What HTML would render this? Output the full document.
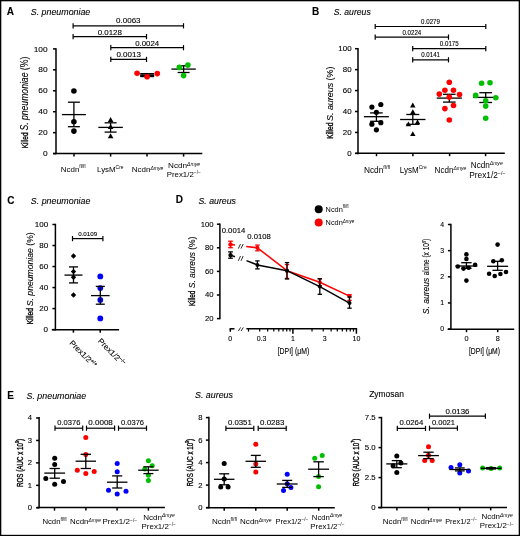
<!DOCTYPE html>
<html><head><meta charset="utf-8"><style>
html,body{margin:0;padding:0;background:#fff;}
svg{display:block;will-change:transform;}
text{font-family:"Liberation Sans",sans-serif;stroke:currentColor;stroke-width:0.1px;}
</style></head><body>
<svg width="520" height="536" viewBox="0 0 520 536">
<rect x="0" y="0" width="520" height="536" fill="#fff"/>
<rect x="0" y="0" width="520" height="1.3" fill="#000"/>
<rect x="0" y="0" width="1.3" height="536" fill="#000"/>
<rect x="518.7" y="0" width="1.3" height="536" fill="#000"/>
<rect x="0" y="534.8" width="520" height="1.2" fill="#000"/>
<text x="6.7" y="14.8" font-size="10" font-weight="bold">A</text>
<text x="30.8" y="14.8" font-size="8.87" font-style="italic" textLength="59.5" lengthAdjust="spacingAndGlyphs">S. pneumoniae</text>
<line x1="56" y1="48.16" x2="56" y2="154.35" stroke="#000" stroke-width="1.5" />
<line x1="53" y1="48.9" x2="56" y2="48.9" stroke="#000" stroke-width="1.5" />
<text x="33.66" y="51.51" font-size="7.6" textLength="13.94" lengthAdjust="spacingAndGlyphs">100</text>
<line x1="53" y1="69.84" x2="56" y2="69.84" stroke="#000" stroke-width="1.5" />
<text x="38.3" y="72.45" font-size="7.6" textLength="9.3" lengthAdjust="spacingAndGlyphs">80</text>
<line x1="53" y1="90.78" x2="56" y2="90.78" stroke="#000" stroke-width="1.5" />
<text x="38.3" y="93.39" font-size="7.6" textLength="9.3" lengthAdjust="spacingAndGlyphs">60</text>
<line x1="53" y1="111.72" x2="56" y2="111.72" stroke="#000" stroke-width="1.5" />
<text x="38.3" y="114.33" font-size="7.6" textLength="9.3" lengthAdjust="spacingAndGlyphs">40</text>
<line x1="53" y1="132.66" x2="56" y2="132.66" stroke="#000" stroke-width="1.5" />
<text x="38.3" y="135.27" font-size="7.6" textLength="9.3" lengthAdjust="spacingAndGlyphs">20</text>
<line x1="53" y1="153.6" x2="56" y2="153.6" stroke="#000" stroke-width="1.5" />
<text x="42.95" y="156.21" font-size="7.6" textLength="4.65" lengthAdjust="spacingAndGlyphs">0</text>
<text x="0" y="0" font-size="9.74" textLength="15.7" lengthAdjust="spacingAndGlyphs" transform="translate(28.2 148.2) rotate(-90)" style="stroke-width:0.35px">Killed</text>
<text x="0" y="0" font-size="10.17" textLength="73.9" lengthAdjust="spacingAndGlyphs" transform="translate(28.2 130.6) rotate(-90)"><tspan font-style="italic">S. pneumoniae</tspan> (%)</text>
<line x1="53" y1="153.6" x2="202.3" y2="153.6" stroke="#000" stroke-width="1.5" />
<line x1="74" y1="153.6" x2="74" y2="156.6" stroke="#000" stroke-width="1.5" />
<line x1="110.6" y1="153.6" x2="110.6" y2="156.6" stroke="#000" stroke-width="1.5" />
<line x1="147" y1="153.6" x2="147" y2="156.6" stroke="#000" stroke-width="1.5" />
<line x1="183.6" y1="153.6" x2="183.6" y2="156.6" stroke="#000" stroke-width="1.5" />
<line x1="73.1" y1="25.8" x2="183.5" y2="25.8" stroke="#000" stroke-width="1.2" />
<line x1="73.1" y1="23.2" x2="73.1" y2="28.4" stroke="#000" stroke-width="1.2" />
<line x1="183.5" y1="23.2" x2="183.5" y2="28.4" stroke="#000" stroke-width="1.2" />
<text x="116.05" y="23.2" font-size="7.12" textLength="24.5" lengthAdjust="spacingAndGlyphs">0.0063</text>
<line x1="73.1" y1="36.6" x2="146.5" y2="36.6" stroke="#000" stroke-width="1.2" />
<line x1="73.1" y1="34" x2="73.1" y2="39.2" stroke="#000" stroke-width="1.2" />
<line x1="146.5" y1="34" x2="146.5" y2="39.2" stroke="#000" stroke-width="1.2" />
<text x="97.65" y="34.6" font-size="7.12" textLength="24.3" lengthAdjust="spacingAndGlyphs">0.0128</text>
<line x1="110.8" y1="47.7" x2="183.5" y2="47.7" stroke="#000" stroke-width="1.2" />
<line x1="110.8" y1="45.1" x2="110.8" y2="50.3" stroke="#000" stroke-width="1.2" />
<line x1="183.5" y1="45.1" x2="183.5" y2="50.3" stroke="#000" stroke-width="1.2" />
<text x="135.15" y="45.8" font-size="7.12" textLength="24" lengthAdjust="spacingAndGlyphs">0.0024</text>
<line x1="110.8" y1="59.4" x2="146.5" y2="59.4" stroke="#000" stroke-width="1.2" />
<line x1="110.8" y1="56.8" x2="110.8" y2="62" stroke="#000" stroke-width="1.2" />
<line x1="146.5" y1="56.8" x2="146.5" y2="62" stroke="#000" stroke-width="1.2" />
<text x="116.4" y="56.8" font-size="7.12" textLength="24.5" lengthAdjust="spacingAndGlyphs">0.0013</text>
<line x1="61.9" y1="114.6" x2="85.9" y2="114.6" stroke="#000" stroke-width="1.3" />
<line x1="67.9" y1="102.2" x2="79.9" y2="102.2" stroke="#000" stroke-width="1.3" />
<line x1="67.9" y1="126.7" x2="79.9" y2="126.7" stroke="#000" stroke-width="1.3" />
<line x1="73.9" y1="102.2" x2="73.9" y2="126.7" stroke="#000" stroke-width="1.3" />
<circle cx="73.9" cy="91" r="2.8" fill="#000"/>
<circle cx="73.9" cy="121.7" r="2.8" fill="#000"/>
<circle cx="73.9" cy="131.1" r="2.8" fill="#000"/>
<line x1="98.35" y1="127.4" x2="122.85" y2="127.4" stroke="#000" stroke-width="1.3" />
<line x1="104.6" y1="122.8" x2="116.6" y2="122.8" stroke="#000" stroke-width="1.3" />
<line x1="104.6" y1="132.1" x2="116.6" y2="132.1" stroke="#000" stroke-width="1.3" />
<line x1="110.6" y1="122.8" x2="110.6" y2="132.1" stroke="#000" stroke-width="1.3" />
<path d="M110.6 117.1L113.4 122.1L107.8 122.1Z" fill="#000"/>
<path d="M110.6 124.1L113.4 129.1L107.8 129.1Z" fill="#000"/>
<path d="M110.6 133.3L113.4 138.3L107.8 138.3Z" fill="#000"/>
<line x1="140.2" y1="75.3" x2="154.2" y2="75.3" stroke="#000" stroke-width="1.6" />
<line x1="140.2" y1="73.8" x2="154.2" y2="73.8" stroke="#000" stroke-width="1.6" />
<line x1="140.2" y1="76.4" x2="154.2" y2="76.4" stroke="#000" stroke-width="1.6" />
<line x1="147.2" y1="73.8" x2="147.2" y2="76.4" stroke="#000" stroke-width="1.6" />
<circle cx="137.1" cy="73.2" r="2.8" fill="#ff0000"/>
<circle cx="147.1" cy="76.8" r="2.8" fill="#ff0000"/>
<circle cx="157.3" cy="73.6" r="2.8" fill="#ff0000"/>
<line x1="171.4" y1="69.1" x2="195.8" y2="69.1" stroke="#000" stroke-width="1.3" />
<line x1="177.6" y1="65.8" x2="189.6" y2="65.8" stroke="#000" stroke-width="1.3" />
<line x1="177.6" y1="72.5" x2="189.6" y2="72.5" stroke="#000" stroke-width="1.3" />
<line x1="183.6" y1="65.8" x2="183.6" y2="72.5" stroke="#000" stroke-width="1.3" />
<circle cx="179.4" cy="67.4" r="2.8" fill="#00be00"/>
<circle cx="187.9" cy="65.1" r="2.8" fill="#00be00"/>
<circle cx="183.6" cy="75.6" r="2.8" fill="#00be00"/>
<text x="60.8" y="171.6" font-size="7.56" textLength="24.8" lengthAdjust="spacingAndGlyphs" style="stroke-width:0">Ncdn<tspan font-size="4.69" dy="-3.22">fl/fl</tspan></text>
<text x="97.1" y="172" font-size="7.99" textLength="26.4" lengthAdjust="spacingAndGlyphs" style="stroke-width:0">LysM<tspan font-size="4.96" dy="-3.41">Cre</tspan></text>
<text x="131.7" y="171.7" font-size="7.56" textLength="31.5" lengthAdjust="spacingAndGlyphs" style="stroke-width:0">Ncdn<tspan font-size="4.69" dy="-2.18" font-style="italic">Δmye</tspan></text>
<text x="168.1" y="167.7" font-size="7.56" textLength="32" lengthAdjust="spacingAndGlyphs" style="stroke-width:0">Ncdn<tspan font-size="4.69" dy="-2.18" font-style="italic">Δmye</tspan></text>
<text x="166.7" y="176.7" font-size="7.56" textLength="34.2" lengthAdjust="spacingAndGlyphs" style="stroke-width:0">Prex1/2<tspan font-size="4.69" dy="-2.6">−/−</tspan></text>
<text x="312" y="14.5" font-size="10" font-weight="bold">B</text>
<text x="333.75" y="14.5" font-size="8.14" font-style="italic" textLength="37" lengthAdjust="spacingAndGlyphs">S. aureus</text>
<line x1="358" y1="47.96" x2="358" y2="154.15" stroke="#000" stroke-width="1.5" />
<line x1="355" y1="48.7" x2="358" y2="48.7" stroke="#000" stroke-width="1.5" />
<text x="338.36" y="51.07" font-size="6.9" textLength="13.24" lengthAdjust="spacingAndGlyphs">100</text>
<line x1="355" y1="69.64" x2="358" y2="69.64" stroke="#000" stroke-width="1.5" />
<text x="342.78" y="72.01" font-size="6.9" textLength="8.82" lengthAdjust="spacingAndGlyphs">80</text>
<line x1="355" y1="90.58" x2="358" y2="90.58" stroke="#000" stroke-width="1.5" />
<text x="342.78" y="92.95" font-size="6.9" textLength="8.82" lengthAdjust="spacingAndGlyphs">60</text>
<line x1="355" y1="111.52" x2="358" y2="111.52" stroke="#000" stroke-width="1.5" />
<text x="342.78" y="113.89" font-size="6.9" textLength="8.82" lengthAdjust="spacingAndGlyphs">40</text>
<line x1="355" y1="132.46" x2="358" y2="132.46" stroke="#000" stroke-width="1.5" />
<text x="342.78" y="134.83" font-size="6.9" textLength="8.82" lengthAdjust="spacingAndGlyphs">20</text>
<line x1="355" y1="153.4" x2="358" y2="153.4" stroke="#000" stroke-width="1.5" />
<text x="347.19" y="155.77" font-size="6.9" textLength="4.41" lengthAdjust="spacingAndGlyphs">0</text>
<text x="0" y="0" font-size="9.01" textLength="16.3" lengthAdjust="spacingAndGlyphs" transform="translate(333 138.8) rotate(-90)" style="stroke-width:0.35px">Killed</text>
<text x="0" y="0" font-size="9.3" textLength="54.4" lengthAdjust="spacingAndGlyphs" transform="translate(333 121) rotate(-90)"><tspan font-style="italic">S. aureus</tspan> (%)</text>
<line x1="355.5" y1="153.2" x2="504.8" y2="153.2" stroke="#000" stroke-width="1.5" />
<line x1="376.5" y1="153.2" x2="376.5" y2="156.2" stroke="#000" stroke-width="1.5" />
<line x1="412.9" y1="153.2" x2="412.9" y2="156.2" stroke="#000" stroke-width="1.5" />
<line x1="449.6" y1="153.2" x2="449.6" y2="156.2" stroke="#000" stroke-width="1.5" />
<line x1="485.6" y1="153.2" x2="485.6" y2="156.2" stroke="#000" stroke-width="1.5" />
<line x1="375.2" y1="26.5" x2="485.8" y2="26.5" stroke="#000" stroke-width="1.2" />
<line x1="375.2" y1="23.9" x2="375.2" y2="29.1" stroke="#000" stroke-width="1.2" />
<line x1="485.8" y1="23.9" x2="485.8" y2="29.1" stroke="#000" stroke-width="1.2" />
<text x="421.1" y="23.7" font-size="6.54" textLength="18.8" lengthAdjust="spacingAndGlyphs">0.0279</text>
<line x1="375.2" y1="37.1" x2="448.5" y2="37.1" stroke="#000" stroke-width="1.2" />
<line x1="375.2" y1="34.5" x2="375.2" y2="39.7" stroke="#000" stroke-width="1.2" />
<line x1="448.5" y1="34.5" x2="448.5" y2="39.7" stroke="#000" stroke-width="1.2" />
<text x="402.45" y="34.6" font-size="6.54" textLength="18.8" lengthAdjust="spacingAndGlyphs">0.0224</text>
<line x1="412.7" y1="48.7" x2="485.8" y2="48.7" stroke="#000" stroke-width="1.2" />
<line x1="412.7" y1="46.1" x2="412.7" y2="51.3" stroke="#000" stroke-width="1.2" />
<line x1="485.8" y1="46.1" x2="485.8" y2="51.3" stroke="#000" stroke-width="1.2" />
<text x="439.85" y="46" font-size="6.54" textLength="18.8" lengthAdjust="spacingAndGlyphs">0.0175</text>
<line x1="412.7" y1="59.8" x2="448.5" y2="59.8" stroke="#000" stroke-width="1.2" />
<line x1="412.7" y1="57.2" x2="412.7" y2="62.4" stroke="#000" stroke-width="1.2" />
<line x1="448.5" y1="57.2" x2="448.5" y2="62.4" stroke="#000" stroke-width="1.2" />
<text x="421.2" y="57.1" font-size="6.54" textLength="18.8" lengthAdjust="spacingAndGlyphs">0.0141</text>
<line x1="363.9" y1="116.7" x2="388.9" y2="116.7" stroke="#000" stroke-width="1.3" />
<line x1="370.1" y1="112.9" x2="382.7" y2="112.9" stroke="#000" stroke-width="1.3" />
<line x1="370.1" y1="121.3" x2="382.7" y2="121.3" stroke="#000" stroke-width="1.3" />
<line x1="376.4" y1="112.9" x2="376.4" y2="121.3" stroke="#000" stroke-width="1.3" />
<circle cx="371.9" cy="107.1" r="2.6" fill="#000"/>
<circle cx="380.8" cy="104.5" r="2.6" fill="#000"/>
<circle cx="376.4" cy="112.3" r="2.6" fill="#000"/>
<circle cx="371.9" cy="124.2" r="2.6" fill="#000"/>
<circle cx="380.8" cy="122.7" r="2.6" fill="#000"/>
<circle cx="376.4" cy="129.8" r="2.6" fill="#000"/>
<line x1="400.1" y1="119.5" x2="425.5" y2="119.5" stroke="#000" stroke-width="1.3" />
<line x1="406.3" y1="114.5" x2="419.3" y2="114.5" stroke="#000" stroke-width="1.3" />
<line x1="406.3" y1="124.3" x2="419.3" y2="124.3" stroke="#000" stroke-width="1.3" />
<line x1="412.8" y1="114.5" x2="412.8" y2="124.3" stroke="#000" stroke-width="1.3" />
<path d="M412.8 102.62L415.5 107.42L410.1 107.42Z" fill="#000"/>
<path d="M412.8 109.32L415.5 114.12L410.1 114.12Z" fill="#000"/>
<path d="M408.4 121.52L411.1 126.32L405.7 126.32Z" fill="#000"/>
<path d="M417.5 119.42L420.2 124.22L414.8 124.22Z" fill="#000"/>
<path d="M412.8 131.22L415.5 136.02L410.1 136.02Z" fill="#000"/>
<line x1="436.7" y1="98.1" x2="461.9" y2="98.1" stroke="#000" stroke-width="1.3" />
<line x1="443" y1="94.3" x2="455.6" y2="94.3" stroke="#000" stroke-width="1.3" />
<line x1="443" y1="102.1" x2="455.6" y2="102.1" stroke="#000" stroke-width="1.3" />
<line x1="449.3" y1="94.3" x2="449.3" y2="102.1" stroke="#000" stroke-width="1.3" />
<circle cx="449.3" cy="82.3" r="2.8" fill="#ff0000"/>
<circle cx="444.9" cy="90.2" r="2.8" fill="#ff0000"/>
<circle cx="453.5" cy="90.2" r="2.8" fill="#ff0000"/>
<circle cx="439.3" cy="94.1" r="2.8" fill="#ff0000"/>
<circle cx="459.5" cy="94.6" r="2.8" fill="#ff0000"/>
<circle cx="449.3" cy="97.1" r="2.8" fill="#ff0000"/>
<circle cx="453.5" cy="105.5" r="2.8" fill="#ff0000"/>
<circle cx="444.9" cy="108.6" r="2.8" fill="#ff0000"/>
<circle cx="449.3" cy="120" r="2.8" fill="#ff0000"/>
<line x1="473.2" y1="97.4" x2="498.2" y2="97.4" stroke="#000" stroke-width="1.3" />
<line x1="479.3" y1="92.7" x2="492.1" y2="92.7" stroke="#000" stroke-width="1.3" />
<line x1="479.3" y1="102.5" x2="492.1" y2="102.5" stroke="#000" stroke-width="1.3" />
<line x1="485.7" y1="92.7" x2="485.7" y2="102.5" stroke="#000" stroke-width="1.3" />
<circle cx="481.6" cy="83.2" r="2.8" fill="#00be00"/>
<circle cx="490" cy="82.7" r="2.8" fill="#00be00"/>
<circle cx="475.7" cy="95.4" r="2.8" fill="#00be00"/>
<circle cx="495.8" cy="97.7" r="2.8" fill="#00be00"/>
<circle cx="485.7" cy="100.7" r="2.8" fill="#00be00"/>
<circle cx="485.7" cy="106.1" r="2.8" fill="#00be00"/>
<circle cx="485.7" cy="118.2" r="2.8" fill="#00be00"/>
<text x="363.9" y="172.8" font-size="8.14" textLength="26.1" lengthAdjust="spacingAndGlyphs" style="stroke-width:0">Ncdn<tspan font-size="5.05" dy="-3.47">fl/fl</tspan></text>
<text x="399.8" y="172.8" font-size="8.14" textLength="27" lengthAdjust="spacingAndGlyphs" style="stroke-width:0">LysM<tspan font-size="5.05" dy="-3.47">Cre</tspan></text>
<text x="434.6" y="172.8" font-size="8.14" textLength="31.7" lengthAdjust="spacingAndGlyphs" style="stroke-width:0">Ncdn<tspan font-size="5.05" dy="-2.35" font-style="italic">Δmye</tspan></text>
<text x="470.8" y="167.5" font-size="8.14" textLength="31.9" lengthAdjust="spacingAndGlyphs" style="stroke-width:0">Ncdn<tspan font-size="5.05" dy="-2.35" font-style="italic">Δmye</tspan></text>
<text x="469.2" y="177.7" font-size="8.14" textLength="36.3" lengthAdjust="spacingAndGlyphs" style="stroke-width:0">Prex1/2<tspan font-size="5.05" dy="-2.8">−/−</tspan></text>
<text x="7.3" y="203.5" font-size="10" font-weight="bold">C</text>
<text x="30.8" y="204" font-size="9.01" font-style="italic" textLength="59.6" lengthAdjust="spacingAndGlyphs">S. pneumoniae</text>
<line x1="55.4" y1="223.76" x2="55.4" y2="330.45" stroke="#000" stroke-width="1.5" />
<line x1="52.4" y1="224.5" x2="55.4" y2="224.5" stroke="#000" stroke-width="1.5" />
<text x="34.72" y="226.84" font-size="6.8" textLength="13.38" lengthAdjust="spacingAndGlyphs">100</text>
<line x1="52.4" y1="245.52" x2="55.4" y2="245.52" stroke="#000" stroke-width="1.5" />
<text x="39.18" y="247.86" font-size="6.8" textLength="8.92" lengthAdjust="spacingAndGlyphs">80</text>
<line x1="52.4" y1="266.54" x2="55.4" y2="266.54" stroke="#000" stroke-width="1.5" />
<text x="39.18" y="268.88" font-size="6.8" textLength="8.92" lengthAdjust="spacingAndGlyphs">60</text>
<line x1="52.4" y1="287.56" x2="55.4" y2="287.56" stroke="#000" stroke-width="1.5" />
<text x="39.18" y="289.9" font-size="6.8" textLength="8.92" lengthAdjust="spacingAndGlyphs">40</text>
<line x1="52.4" y1="308.58" x2="55.4" y2="308.58" stroke="#000" stroke-width="1.5" />
<text x="39.18" y="310.92" font-size="6.8" textLength="8.92" lengthAdjust="spacingAndGlyphs">20</text>
<line x1="52.4" y1="329.6" x2="55.4" y2="329.6" stroke="#000" stroke-width="1.5" />
<text x="43.64" y="331.94" font-size="6.8" textLength="4.46" lengthAdjust="spacingAndGlyphs">0</text>
<text x="0" y="0" font-size="8.28" textLength="16.2" lengthAdjust="spacingAndGlyphs" transform="translate(32.9 324.3) rotate(-90)" style="stroke-width:0.35px">Killed</text>
<text x="0" y="0" font-size="9.59" textLength="73.9" lengthAdjust="spacingAndGlyphs" transform="translate(32.9 306.2) rotate(-90)"><tspan font-style="italic">S. pneumoniae</tspan> (%)</text>
<line x1="51.8" y1="329.7" x2="119.1" y2="329.7" stroke="#000" stroke-width="1.5" />
<line x1="73.4" y1="329.7" x2="73.4" y2="332.7" stroke="#000" stroke-width="1.5" />
<line x1="100.2" y1="329.7" x2="100.2" y2="332.7" stroke="#000" stroke-width="1.5" />
<line x1="72.5" y1="238.6" x2="102.9" y2="238.6" stroke="#000" stroke-width="1.2" />
<line x1="72.5" y1="236" x2="72.5" y2="241.2" stroke="#000" stroke-width="1.2" />
<line x1="102.9" y1="236" x2="102.9" y2="241.2" stroke="#000" stroke-width="1.2" />
<text x="78.2" y="235.9" font-size="6.1" textLength="19" lengthAdjust="spacingAndGlyphs">0.0109</text>
<line x1="64.5" y1="275.1" x2="82.5" y2="275.1" stroke="#000" stroke-width="1.3" />
<line x1="69" y1="266.9" x2="78" y2="266.9" stroke="#000" stroke-width="1.3" />
<line x1="69" y1="282.9" x2="78" y2="282.9" stroke="#000" stroke-width="1.3" />
<line x1="73.5" y1="266.9" x2="73.5" y2="282.9" stroke="#000" stroke-width="1.3" />
<path d="M73.5 253.3L76.2 256L73.5 258.7L70.8 256Z" fill="#000"/>
<path d="M73.5 268.9L76.2 271.6L73.5 274.3L70.8 271.6Z" fill="#000"/>
<path d="M73.5 274.5L76.2 277.2L73.5 279.9L70.8 277.2Z" fill="#000"/>
<path d="M73.5 292.3L76.2 295L73.5 297.7L70.8 295Z" fill="#000"/>
<circle cx="100.3" cy="276.4" r="2.9" fill="#0000ff"/>
<circle cx="100.3" cy="288.1" r="2.9" fill="#0000ff"/>
<circle cx="100.3" cy="299.9" r="2.9" fill="#0000ff"/>
<circle cx="100.3" cy="318.4" r="2.9" fill="#0000ff"/>
<line x1="91" y1="295.6" x2="109.6" y2="295.6" stroke="#000" stroke-width="1.3" />
<line x1="95.8" y1="286.4" x2="104.8" y2="286.4" stroke="#000" stroke-width="1.3" />
<line x1="95.8" y1="304.2" x2="104.8" y2="304.2" stroke="#000" stroke-width="1.3" />
<line x1="100.3" y1="286.4" x2="100.3" y2="304.2" stroke="#000" stroke-width="1.3" />
<text x="0" y="0" font-size="7.8" textLength="35" lengthAdjust="spacingAndGlyphs" transform="translate(68.9 343.4) rotate(45)">Prex1/2<tspan font-size="5" dy="-2.8">+/+</tspan></text>
<text x="0" y="0" font-size="7.8" textLength="35" lengthAdjust="spacingAndGlyphs" transform="translate(97.4 341.6) rotate(45)">Prex1/2<tspan font-size="5" dy="-2.8">−/−</tspan></text>
<text x="175.8" y="203.3" font-size="10" font-weight="bold">D</text>
<text x="198.5" y="203.7" font-size="9.16" font-style="italic" textLength="37.5" lengthAdjust="spacingAndGlyphs">S. aureus</text>
<line x1="219.9" y1="223.46" x2="219.9" y2="319.35" stroke="#000" stroke-width="1.5" />
<line x1="216.9" y1="224.2" x2="219.9" y2="224.2" stroke="#000" stroke-width="1.5" />
<text x="200.66" y="226.61" font-size="7" textLength="12.84" lengthAdjust="spacingAndGlyphs">100</text>
<line x1="216.9" y1="247.8" x2="219.9" y2="247.8" stroke="#000" stroke-width="1.5" />
<text x="204.94" y="250.21" font-size="7" textLength="8.56" lengthAdjust="spacingAndGlyphs">80</text>
<line x1="216.9" y1="271.4" x2="219.9" y2="271.4" stroke="#000" stroke-width="1.5" />
<text x="204.94" y="273.81" font-size="7" textLength="8.56" lengthAdjust="spacingAndGlyphs">60</text>
<line x1="216.9" y1="295" x2="219.9" y2="295" stroke="#000" stroke-width="1.5" />
<text x="204.94" y="297.41" font-size="7" textLength="8.56" lengthAdjust="spacingAndGlyphs">40</text>
<line x1="216.9" y1="318.6" x2="219.9" y2="318.6" stroke="#000" stroke-width="1.5" />
<text x="204.94" y="321.01" font-size="7" textLength="8.56" lengthAdjust="spacingAndGlyphs">20</text>
<text x="0" y="0" font-size="9.88" textLength="15.4" lengthAdjust="spacingAndGlyphs" transform="translate(195.1 306.1) rotate(-90)" style="stroke-width:0.35px">Killed</text>
<text x="0" y="0" font-size="9.88" textLength="51.5" lengthAdjust="spacingAndGlyphs" transform="translate(195.1 288.2) rotate(-90)"><tspan font-style="italic">S. aureus</tspan> (%)</text>
<line x1="229.6" y1="328.8" x2="234.5" y2="328.8" stroke="#000" stroke-width="1.5" />
<line x1="230.3" y1="328.8" x2="230.3" y2="331.8" stroke="#000" stroke-width="1.5" />
<line x1="246.4" y1="328.8" x2="357.1" y2="328.8" stroke="#000" stroke-width="1.5" />
<line x1="248.52" y1="328.8" x2="248.52" y2="331.6" stroke="#000" stroke-width="1.2" />
<line x1="259.7" y1="328.8" x2="259.7" y2="331.6" stroke="#000" stroke-width="1.2" />
<line x1="267.63" y1="328.8" x2="267.63" y2="331.6" stroke="#000" stroke-width="1.2" />
<line x1="273.78" y1="328.8" x2="273.78" y2="331.6" stroke="#000" stroke-width="1.2" />
<line x1="278.81" y1="328.8" x2="278.81" y2="331.6" stroke="#000" stroke-width="1.2" />
<line x1="283.06" y1="328.8" x2="283.06" y2="331.6" stroke="#000" stroke-width="1.2" />
<line x1="286.75" y1="328.8" x2="286.75" y2="331.6" stroke="#000" stroke-width="1.2" />
<line x1="289.99" y1="328.8" x2="289.99" y2="331.6" stroke="#000" stroke-width="1.2" />
<line x1="312.02" y1="328.8" x2="312.02" y2="331.6" stroke="#000" stroke-width="1.2" />
<line x1="323.2" y1="328.8" x2="323.2" y2="331.6" stroke="#000" stroke-width="1.2" />
<line x1="331.13" y1="328.8" x2="331.13" y2="331.6" stroke="#000" stroke-width="1.2" />
<line x1="337.28" y1="328.8" x2="337.28" y2="331.6" stroke="#000" stroke-width="1.2" />
<line x1="342.31" y1="328.8" x2="342.31" y2="331.6" stroke="#000" stroke-width="1.2" />
<line x1="346.56" y1="328.8" x2="346.56" y2="331.6" stroke="#000" stroke-width="1.2" />
<line x1="350.25" y1="328.8" x2="350.25" y2="331.6" stroke="#000" stroke-width="1.2" />
<line x1="353.49" y1="328.8" x2="353.49" y2="331.6" stroke="#000" stroke-width="1.2" />
<line x1="292.9" y1="328.8" x2="292.9" y2="333.8" stroke="#000" stroke-width="1.5" />
<line x1="356.4" y1="328.8" x2="356.4" y2="333.8" stroke="#000" stroke-width="1.5" />
<text x="230.25" y="340.9" font-size="6.98" text-anchor="middle">0</text>
<text x="261.6" y="340.9" font-size="6.98" text-anchor="middle">0.3</text>
<text x="292.9" y="340.9" font-size="6.98" text-anchor="middle">1</text>
<text x="324.7" y="340.9" font-size="6.98" text-anchor="middle">3</text>
<text x="356.5" y="340.9" font-size="6.98" text-anchor="middle">10</text>
<text x="277.7" y="353.5" font-size="8.43" textLength="31.5" lengthAdjust="spacingAndGlyphs">[DPI] (μM)</text>
<circle cx="318.7" cy="209.2" r="4" fill="#000"/>
<circle cx="318.7" cy="222.5" r="4" fill="#ff0000"/>
<text x="325.6" y="211.7" font-size="7.56" textLength="23" lengthAdjust="spacingAndGlyphs" style="stroke-width:0">Ncdn<tspan font-size="4.69" dy="-3.22">fl/fl</tspan></text>
<text x="325.6" y="225" font-size="7.56" textLength="28.8" lengthAdjust="spacingAndGlyphs" style="stroke-width:0">Ncdn<tspan font-size="4.69" dy="-2.18" font-style="italic">Δmye</tspan></text>
<text x="221.7" y="232.7" font-size="6.54" textLength="23.6" lengthAdjust="spacingAndGlyphs">0.0014</text>
<text x="247.3" y="239" font-size="6.54" textLength="23.5" lengthAdjust="spacingAndGlyphs">0.0108</text>
<polyline points="246.2,246.4 257.4,247.8 287,270.7 319.8,282.2 349.5,296.1" fill="none" stroke="#ff0000" stroke-width="1.5" stroke-linejoin="round"/>
<line x1="257.4" y1="245.1" x2="257.4" y2="250.8" stroke="#ff0000" stroke-width="1.3" />
<line x1="255.2" y1="245.1" x2="259.6" y2="245.1" stroke="#ff0000" stroke-width="1.3" />
<line x1="255.2" y1="250.8" x2="259.6" y2="250.8" stroke="#ff0000" stroke-width="1.3" />
<circle cx="257.4" cy="247.8" r="2" fill="#ff0000"/>
<line x1="287" y1="264.6" x2="287" y2="278.4" stroke="#ff0000" stroke-width="1.3" />
<line x1="284.8" y1="264.6" x2="289.2" y2="264.6" stroke="#ff0000" stroke-width="1.3" />
<line x1="284.8" y1="278.4" x2="289.2" y2="278.4" stroke="#ff0000" stroke-width="1.3" />
<circle cx="287" cy="270.7" r="2" fill="#ff0000"/>
<line x1="319.8" y1="278.8" x2="319.8" y2="285.6" stroke="#ff0000" stroke-width="1.3" />
<line x1="317.6" y1="278.8" x2="322" y2="278.8" stroke="#ff0000" stroke-width="1.3" />
<line x1="317.6" y1="285.6" x2="322" y2="285.6" stroke="#ff0000" stroke-width="1.3" />
<circle cx="319.8" cy="282.2" r="2" fill="#ff0000"/>
<line x1="349.5" y1="294.7" x2="349.5" y2="300.4" stroke="#ff0000" stroke-width="1.3" />
<line x1="347.3" y1="294.7" x2="351.7" y2="294.7" stroke="#ff0000" stroke-width="1.3" />
<line x1="347.3" y1="300.4" x2="351.7" y2="300.4" stroke="#ff0000" stroke-width="1.3" />
<circle cx="349.5" cy="296.1" r="2" fill="#ff0000"/>
<line x1="230.5" y1="241.2" x2="230.5" y2="247.7" stroke="#ff0000" stroke-width="1.3" />
<line x1="228.15" y1="241.2" x2="232.85" y2="241.2" stroke="#ff0000" stroke-width="1.3" />
<line x1="228.15" y1="247.7" x2="232.85" y2="247.7" stroke="#ff0000" stroke-width="1.3" />
<circle cx="230.5" cy="244.4" r="2.2" fill="#ff0000"/>
<line x1="230.5" y1="244.5" x2="235" y2="245" stroke="#ff0000" stroke-width="1.5" />
<polyline points="246.5,260.6 257.4,264.9 287,270.7 319.8,286.6 349.5,303.1" fill="none" stroke="#000" stroke-width="1.5" stroke-linejoin="round"/>
<line x1="257.4" y1="260.9" x2="257.4" y2="268.9" stroke="#000" stroke-width="1.3" />
<line x1="255.2" y1="260.9" x2="259.6" y2="260.9" stroke="#000" stroke-width="1.3" />
<line x1="255.2" y1="268.9" x2="259.6" y2="268.9" stroke="#000" stroke-width="1.3" />
<circle cx="257.4" cy="264.9" r="2" fill="#000"/>
<line x1="287" y1="262.6" x2="287" y2="279" stroke="#000" stroke-width="1.3" />
<line x1="284.8" y1="262.6" x2="289.2" y2="262.6" stroke="#000" stroke-width="1.3" />
<line x1="284.8" y1="279" x2="289.2" y2="279" stroke="#000" stroke-width="1.3" />
<circle cx="287" cy="270.7" r="2" fill="#000"/>
<line x1="319.8" y1="278.8" x2="319.8" y2="294.3" stroke="#000" stroke-width="1.3" />
<line x1="317.6" y1="278.8" x2="322" y2="278.8" stroke="#000" stroke-width="1.3" />
<line x1="317.6" y1="294.3" x2="322" y2="294.3" stroke="#000" stroke-width="1.3" />
<circle cx="319.8" cy="286.6" r="2" fill="#000"/>
<line x1="349.5" y1="297" x2="349.5" y2="308.2" stroke="#000" stroke-width="1.3" />
<line x1="347.3" y1="297" x2="351.7" y2="297" stroke="#000" stroke-width="1.3" />
<line x1="347.3" y1="308.2" x2="351.7" y2="308.2" stroke="#000" stroke-width="1.3" />
<circle cx="349.5" cy="303.1" r="2" fill="#000"/>
<line x1="230.5" y1="251.9" x2="230.5" y2="258.2" stroke="#000" stroke-width="1.3" />
<line x1="228.15" y1="251.9" x2="232.85" y2="251.9" stroke="#000" stroke-width="1.3" />
<line x1="228.15" y1="258.2" x2="232.85" y2="258.2" stroke="#000" stroke-width="1.3" />
<circle cx="230.5" cy="255.1" r="2.2" fill="#000"/>
<line x1="230.5" y1="255.1" x2="235" y2="256.8" stroke="#000" stroke-width="1.5" />
<line x1="238.3" y1="248.6" x2="240.5" y2="244" stroke="#222" stroke-width="0.95" />
<line x1="241" y1="248.6" x2="243.2" y2="244" stroke="#222" stroke-width="0.95" />
<line x1="238.3" y1="260.8" x2="240.5" y2="256" stroke="#222" stroke-width="0.95" />
<line x1="241" y1="260.8" x2="243.2" y2="256" stroke="#222" stroke-width="0.95" />
<line x1="238.4" y1="331" x2="240.6" y2="327.4" stroke="#222" stroke-width="0.95" />
<line x1="241.1" y1="331" x2="243.3" y2="327.4" stroke="#222" stroke-width="0.95" />
<line x1="450.9" y1="223.76" x2="450.9" y2="329.95" stroke="#000" stroke-width="1.5" />
<line x1="447.9" y1="224.5" x2="450.9" y2="224.5" stroke="#000" stroke-width="1.5" />
<text x="440.35" y="226.77" font-size="6.6" textLength="3.85" lengthAdjust="spacingAndGlyphs">4</text>
<line x1="447.9" y1="250.65" x2="450.9" y2="250.65" stroke="#000" stroke-width="1.5" />
<text x="440.35" y="252.92" font-size="6.6" textLength="3.85" lengthAdjust="spacingAndGlyphs">3</text>
<line x1="447.9" y1="276.8" x2="450.9" y2="276.8" stroke="#000" stroke-width="1.5" />
<text x="440.35" y="279.07" font-size="6.6" textLength="3.85" lengthAdjust="spacingAndGlyphs">2</text>
<line x1="447.9" y1="302.95" x2="450.9" y2="302.95" stroke="#000" stroke-width="1.5" />
<text x="440.35" y="305.22" font-size="6.6" textLength="3.85" lengthAdjust="spacingAndGlyphs">1</text>
<line x1="447.9" y1="329.1" x2="450.9" y2="329.1" stroke="#000" stroke-width="1.5" />
<text x="440.35" y="331.37" font-size="6.6" textLength="3.85" lengthAdjust="spacingAndGlyphs">0</text>
<text x="0" y="0" font-size="9.3" font-style="italic" textLength="36.4" lengthAdjust="spacingAndGlyphs" transform="translate(428.8 314.2) rotate(-90)">S. aureus</text>
<text x="0" y="0" font-size="9.16" textLength="15.7" lengthAdjust="spacingAndGlyphs" transform="translate(428.8 275.2) rotate(-90)">alone</text>
<text x="0" y="0" font-size="8.72" textLength="18.9" lengthAdjust="spacingAndGlyphs" transform="translate(428.8 257.6) rotate(-90)">(x 10<tspan font-size="5" dy="-3.2">8</tspan><tspan dy="3.2">)</tspan></text>
<line x1="447.7" y1="329.2" x2="514.2" y2="329.2" stroke="#000" stroke-width="1.5" />
<line x1="466.5" y1="329.2" x2="466.5" y2="332.2" stroke="#000" stroke-width="1.5" />
<line x1="497.7" y1="329.2" x2="497.7" y2="332.2" stroke="#000" stroke-width="1.5" />
<text x="466.4" y="340.9" font-size="7.27" text-anchor="middle">0</text>
<text x="497.85" y="340.9" font-size="7.27" text-anchor="middle">8</text>
<text x="468.9" y="353.5" font-size="8.43" textLength="31.1" lengthAdjust="spacingAndGlyphs">[DPI] (μM)</text>
<line x1="455.4" y1="266" x2="477.4" y2="266" stroke="#000" stroke-width="1.3" />
<line x1="461.2" y1="262.7" x2="471.6" y2="262.7" stroke="#000" stroke-width="1.3" />
<line x1="461.2" y1="268.3" x2="471.6" y2="268.3" stroke="#000" stroke-width="1.3" />
<line x1="466.4" y1="262.7" x2="466.4" y2="268.3" stroke="#000" stroke-width="1.3" />
<circle cx="466.4" cy="254.4" r="2.3" fill="#000"/>
<circle cx="466.4" cy="259" r="2.3" fill="#000"/>
<circle cx="457.8" cy="266.5" r="2.3" fill="#000"/>
<circle cx="475.1" cy="264.8" r="2.3" fill="#000"/>
<circle cx="463.5" cy="268.6" r="2.3" fill="#000"/>
<circle cx="468.7" cy="267.7" r="2.3" fill="#000"/>
<circle cx="466.4" cy="280.6" r="2.3" fill="#000"/>
<line x1="487.1" y1="266.3" x2="508.1" y2="266.3" stroke="#000" stroke-width="1.3" />
<line x1="492.45" y1="261.3" x2="502.75" y2="261.3" stroke="#000" stroke-width="1.3" />
<line x1="492.45" y1="270.3" x2="502.75" y2="270.3" stroke="#000" stroke-width="1.3" />
<line x1="497.6" y1="261.3" x2="497.6" y2="270.3" stroke="#000" stroke-width="1.3" />
<circle cx="497.6" cy="244.6" r="2.3" fill="#000"/>
<circle cx="493.3" cy="261.3" r="2.3" fill="#000"/>
<circle cx="501.8" cy="260.2" r="2.3" fill="#000"/>
<circle cx="489.1" cy="273.7" r="2.3" fill="#000"/>
<circle cx="494.7" cy="276" r="2.3" fill="#000"/>
<circle cx="500.4" cy="274" r="2.3" fill="#000"/>
<circle cx="506" cy="272" r="2.3" fill="#000"/>
<text x="7.3" y="398.7" font-size="10" font-weight="bold">E</text>
<text x="26.5" y="398.7" font-size="9.16" font-style="italic" textLength="59.7" lengthAdjust="spacingAndGlyphs">S. pneumoniae</text>
<line x1="39.1" y1="416.96" x2="39.1" y2="508.35" stroke="#000" stroke-width="1.5" />
<line x1="36.1" y1="418" x2="39.1" y2="418" stroke="#000" stroke-width="1.5" />
<text x="27.72" y="420.41" font-size="7" textLength="4.28" lengthAdjust="spacingAndGlyphs">4</text>
<line x1="36.1" y1="440.45" x2="39.1" y2="440.45" stroke="#000" stroke-width="1.5" />
<text x="27.72" y="442.86" font-size="7" textLength="4.28" lengthAdjust="spacingAndGlyphs">3</text>
<line x1="36.1" y1="462.9" x2="39.1" y2="462.9" stroke="#000" stroke-width="1.5" />
<text x="27.72" y="465.31" font-size="7" textLength="4.28" lengthAdjust="spacingAndGlyphs">2</text>
<line x1="36.1" y1="485.35" x2="39.1" y2="485.35" stroke="#000" stroke-width="1.5" />
<text x="27.72" y="487.76" font-size="7" textLength="4.28" lengthAdjust="spacingAndGlyphs">1</text>
<line x1="36.1" y1="507.8" x2="39.1" y2="507.8" stroke="#000" stroke-width="1.5" />
<text x="27.72" y="510.21" font-size="7" textLength="4.28" lengthAdjust="spacingAndGlyphs">0</text>
<text x="0" y="0" font-size="9.45" textLength="48.1" lengthAdjust="spacingAndGlyphs" transform="translate(22.6 487.1) rotate(-90)" style="stroke-width:0.35px">ROS (AUC x 10<tspan font-size="5.4" dy="-3.6">9</tspan><tspan dy="3.6">)</tspan></text>
<line x1="36.7" y1="507.6" x2="164.9" y2="507.6" stroke="#000" stroke-width="1.5" />
<line x1="54.5" y1="507.6" x2="54.5" y2="510.6" stroke="#000" stroke-width="1.5" />
<line x1="85.9" y1="507.6" x2="85.9" y2="510.6" stroke="#000" stroke-width="1.5" />
<line x1="117.1" y1="507.6" x2="117.1" y2="510.6" stroke="#000" stroke-width="1.5" />
<line x1="148.4" y1="507.6" x2="148.4" y2="510.6" stroke="#000" stroke-width="1.5" />
<line x1="55" y1="428.2" x2="82.7" y2="428.2" stroke="#000" stroke-width="1.2" />
<line x1="55" y1="425.6" x2="55" y2="430.8" stroke="#000" stroke-width="1.2" />
<line x1="82.7" y1="425.6" x2="82.7" y2="430.8" stroke="#000" stroke-width="1.2" />
<text x="57.3" y="424.9" font-size="6.98" textLength="23.1" lengthAdjust="spacingAndGlyphs">0.0376</text>
<line x1="86.5" y1="428.2" x2="114.6" y2="428.2" stroke="#000" stroke-width="1.2" />
<line x1="86.5" y1="425.6" x2="86.5" y2="430.8" stroke="#000" stroke-width="1.2" />
<line x1="114.6" y1="425.6" x2="114.6" y2="430.8" stroke="#000" stroke-width="1.2" />
<text x="88.25" y="424.9" font-size="6.98" textLength="24.6" lengthAdjust="spacingAndGlyphs">0.0008</text>
<line x1="118.5" y1="428.2" x2="146.5" y2="428.2" stroke="#000" stroke-width="1.2" />
<line x1="118.5" y1="425.6" x2="118.5" y2="430.8" stroke="#000" stroke-width="1.2" />
<line x1="146.5" y1="425.6" x2="146.5" y2="430.8" stroke="#000" stroke-width="1.2" />
<text x="120.95" y="424.9" font-size="6.98" textLength="23.1" lengthAdjust="spacingAndGlyphs">0.0376</text>
<circle cx="54.7" cy="458.2" r="2.5" fill="#000"/>
<circle cx="54.7" cy="464.6" r="2.5" fill="#000"/>
<circle cx="45.8" cy="478.5" r="2.5" fill="#000"/>
<circle cx="63.5" cy="481.5" r="2.5" fill="#000"/>
<circle cx="54.7" cy="484.2" r="2.5" fill="#000"/>
<line x1="44.3" y1="473.1" x2="65.1" y2="473.1" stroke="#000" stroke-width="1.3" />
<line x1="49.55" y1="468.5" x2="59.85" y2="468.5" stroke="#000" stroke-width="1.3" />
<line x1="49.55" y1="478.2" x2="59.85" y2="478.2" stroke="#000" stroke-width="1.3" />
<line x1="54.7" y1="468.5" x2="54.7" y2="478.2" stroke="#000" stroke-width="1.3" />
<circle cx="85.8" cy="437.4" r="2.5" fill="#ff0000"/>
<circle cx="85.8" cy="454.6" r="2.5" fill="#ff0000"/>
<circle cx="77.3" cy="470.3" r="2.5" fill="#ff0000"/>
<circle cx="85.8" cy="473.4" r="2.5" fill="#ff0000"/>
<circle cx="94.2" cy="471.5" r="2.5" fill="#ff0000"/>
<line x1="75.6" y1="461.2" x2="96" y2="461.2" stroke="#000" stroke-width="1.3" />
<line x1="80.6" y1="454.3" x2="91" y2="454.3" stroke="#000" stroke-width="1.3" />
<line x1="80.6" y1="468.5" x2="91" y2="468.5" stroke="#000" stroke-width="1.3" />
<line x1="85.8" y1="454.3" x2="85.8" y2="468.5" stroke="#000" stroke-width="1.3" />
<circle cx="117.2" cy="463.5" r="2.5" fill="#0000ff"/>
<circle cx="117.2" cy="471.8" r="2.5" fill="#0000ff"/>
<circle cx="108.5" cy="490.3" r="2.5" fill="#0000ff"/>
<circle cx="117.2" cy="494" r="2.5" fill="#0000ff"/>
<circle cx="126" cy="491.3" r="2.5" fill="#0000ff"/>
<line x1="106.95" y1="482.2" x2="127.45" y2="482.2" stroke="#000" stroke-width="1.3" />
<line x1="112.15" y1="475.9" x2="122.25" y2="475.9" stroke="#000" stroke-width="1.3" />
<line x1="112.15" y1="488" x2="122.25" y2="488" stroke="#000" stroke-width="1.3" />
<line x1="117.2" y1="475.9" x2="117.2" y2="488" stroke="#000" stroke-width="1.3" />
<circle cx="148.4" cy="460.7" r="2.5" fill="#00be00"/>
<circle cx="152.2" cy="465.8" r="2.5" fill="#00be00"/>
<circle cx="144.8" cy="469.1" r="2.5" fill="#00be00"/>
<circle cx="148.4" cy="475.2" r="2.5" fill="#00be00"/>
<circle cx="148.4" cy="480.6" r="2.5" fill="#00be00"/>
<line x1="138.2" y1="470.2" x2="158.6" y2="470.2" stroke="#000" stroke-width="1.3" />
<line x1="143.4" y1="466.8" x2="153.4" y2="466.8" stroke="#000" stroke-width="1.3" />
<line x1="143.4" y1="473.6" x2="153.4" y2="473.6" stroke="#000" stroke-width="1.3" />
<line x1="148.4" y1="466.8" x2="148.4" y2="473.6" stroke="#000" stroke-width="1.3" />
<text x="42.4" y="524.2" font-size="7.7" textLength="24.2" lengthAdjust="spacingAndGlyphs" style="stroke-width:0">Ncdn<tspan font-size="4.78" dy="-3.29">fl/fl</tspan></text>
<text x="70.1" y="524.2" font-size="7.7" textLength="30.9" lengthAdjust="spacingAndGlyphs" style="stroke-width:0">Ncdn<tspan font-size="4.78" dy="-2.23" font-style="italic">Δmye</tspan></text>
<text x="102.4" y="524.2" font-size="7.7" textLength="34.8" lengthAdjust="spacingAndGlyphs" style="stroke-width:0">Prex1/2<tspan font-size="4.78" dy="-2.65">−/−</tspan></text>
<text x="143.2" y="519.7" font-size="7.7" textLength="31.5" lengthAdjust="spacingAndGlyphs" style="stroke-width:0">Ncdn<tspan font-size="4.78" dy="-2.23" font-style="italic">Δmye</tspan></text>
<text x="141.6" y="528.9" font-size="7.7" textLength="34.3" lengthAdjust="spacingAndGlyphs" style="stroke-width:0">Prex1/2<tspan font-size="4.78" dy="-2.65">−/−</tspan></text>
<text x="195" y="397.6" font-size="8.43" font-style="italic" textLength="38" lengthAdjust="spacingAndGlyphs">S. aureus</text>
<line x1="208.9" y1="416.86" x2="208.9" y2="508.35" stroke="#000" stroke-width="1.5" />
<line x1="205.9" y1="417.6" x2="208.9" y2="417.6" stroke="#000" stroke-width="1.5" />
<text x="198.32" y="420.01" font-size="7" textLength="4.28" lengthAdjust="spacingAndGlyphs">8</text>
<line x1="205.9" y1="440.1" x2="208.9" y2="440.1" stroke="#000" stroke-width="1.5" />
<text x="198.32" y="442.51" font-size="7" textLength="4.28" lengthAdjust="spacingAndGlyphs">6</text>
<line x1="205.9" y1="462.6" x2="208.9" y2="462.6" stroke="#000" stroke-width="1.5" />
<text x="198.32" y="465.01" font-size="7" textLength="4.28" lengthAdjust="spacingAndGlyphs">4</text>
<line x1="205.9" y1="485.1" x2="208.9" y2="485.1" stroke="#000" stroke-width="1.5" />
<text x="198.32" y="487.51" font-size="7" textLength="4.28" lengthAdjust="spacingAndGlyphs">2</text>
<line x1="205.9" y1="507.6" x2="208.9" y2="507.6" stroke="#000" stroke-width="1.5" />
<text x="198.32" y="510.01" font-size="7" textLength="4.28" lengthAdjust="spacingAndGlyphs">0</text>
<text x="0" y="0" font-size="9.16" textLength="47.8" lengthAdjust="spacingAndGlyphs" transform="translate(192.6 486.6) rotate(-90)" style="stroke-width:0.35px">ROS (AUC x 10<tspan font-size="5.4" dy="-3.6">9</tspan><tspan dy="3.6">)</tspan></text>
<line x1="206" y1="507.7" x2="334.8" y2="507.7" stroke="#000" stroke-width="1.5" />
<line x1="224.2" y1="507.7" x2="224.2" y2="510.7" stroke="#000" stroke-width="1.5" />
<line x1="255.8" y1="507.7" x2="255.8" y2="510.7" stroke="#000" stroke-width="1.5" />
<line x1="287.2" y1="507.7" x2="287.2" y2="510.7" stroke="#000" stroke-width="1.5" />
<line x1="318.7" y1="507.7" x2="318.7" y2="510.7" stroke="#000" stroke-width="1.5" />
<line x1="225.9" y1="428.3" x2="253.8" y2="428.3" stroke="#000" stroke-width="1.2" />
<line x1="225.9" y1="425.7" x2="225.9" y2="430.9" stroke="#000" stroke-width="1.2" />
<line x1="253.8" y1="425.7" x2="253.8" y2="430.9" stroke="#000" stroke-width="1.2" />
<text x="227.9" y="424.7" font-size="6.98" textLength="23.9" lengthAdjust="spacingAndGlyphs">0.0351</text>
<line x1="258.2" y1="428.3" x2="286.2" y2="428.3" stroke="#000" stroke-width="1.2" />
<line x1="258.2" y1="425.7" x2="258.2" y2="430.9" stroke="#000" stroke-width="1.2" />
<line x1="286.2" y1="425.7" x2="286.2" y2="430.9" stroke="#000" stroke-width="1.2" />
<text x="260.1" y="424.7" font-size="6.98" textLength="24.2" lengthAdjust="spacingAndGlyphs">0.0283</text>
<circle cx="224.2" cy="463.5" r="2.5" fill="#000"/>
<circle cx="224.2" cy="479" r="2.5" fill="#000"/>
<circle cx="220.7" cy="487" r="2.5" fill="#000"/>
<circle cx="228.1" cy="487" r="2.5" fill="#000"/>
<line x1="213.95" y1="479.3" x2="234.45" y2="479.3" stroke="#000" stroke-width="1.3" />
<line x1="219.2" y1="473.8" x2="229.2" y2="473.8" stroke="#000" stroke-width="1.3" />
<line x1="219.2" y1="484.8" x2="229.2" y2="484.8" stroke="#000" stroke-width="1.3" />
<line x1="224.2" y1="473.8" x2="224.2" y2="484.8" stroke="#000" stroke-width="1.3" />
<circle cx="255.8" cy="444.2" r="2.5" fill="#ff0000"/>
<circle cx="255.8" cy="464" r="2.5" fill="#ff0000"/>
<circle cx="255.8" cy="472" r="2.5" fill="#ff0000"/>
<line x1="245.55" y1="461.3" x2="266.05" y2="461.3" stroke="#000" stroke-width="1.3" />
<line x1="250.8" y1="455.4" x2="260.8" y2="455.4" stroke="#000" stroke-width="1.3" />
<line x1="250.8" y1="467.3" x2="260.8" y2="467.3" stroke="#000" stroke-width="1.3" />
<line x1="255.8" y1="455.4" x2="255.8" y2="467.3" stroke="#000" stroke-width="1.3" />
<circle cx="287.2" cy="474.3" r="2.5" fill="#0000ff"/>
<circle cx="287.2" cy="483.7" r="2.5" fill="#0000ff"/>
<circle cx="290.9" cy="487.4" r="2.5" fill="#0000ff"/>
<circle cx="283.5" cy="490.5" r="2.5" fill="#0000ff"/>
<line x1="276.75" y1="484" x2="297.65" y2="484" stroke="#000" stroke-width="1.3" />
<line x1="282.2" y1="480.4" x2="292.2" y2="480.4" stroke="#000" stroke-width="1.3" />
<line x1="282.2" y1="487.4" x2="292.2" y2="487.4" stroke="#000" stroke-width="1.3" />
<line x1="287.2" y1="480.4" x2="287.2" y2="487.4" stroke="#000" stroke-width="1.3" />
<circle cx="314.7" cy="458.2" r="2.5" fill="#00be00"/>
<circle cx="322.2" cy="455.5" r="2.5" fill="#00be00"/>
<circle cx="318.6" cy="476.6" r="2.5" fill="#00be00"/>
<circle cx="318.6" cy="486.7" r="2.5" fill="#00be00"/>
<line x1="308.15" y1="469.2" x2="329.05" y2="469.2" stroke="#000" stroke-width="1.3" />
<line x1="313.35" y1="461.8" x2="323.85" y2="461.8" stroke="#000" stroke-width="1.3" />
<line x1="313.35" y1="476.6" x2="323.85" y2="476.6" stroke="#000" stroke-width="1.3" />
<line x1="318.6" y1="461.8" x2="318.6" y2="476.6" stroke="#000" stroke-width="1.3" />
<text x="211.9" y="524.1" font-size="7.7" textLength="25.1" lengthAdjust="spacingAndGlyphs" style="stroke-width:0">Ncdn<tspan font-size="4.78" dy="-3.29">fl/fl</tspan></text>
<text x="240.1" y="524.1" font-size="7.7" textLength="31.4" lengthAdjust="spacingAndGlyphs" style="stroke-width:0">Ncdn<tspan font-size="4.78" dy="-2.23" font-style="italic">Δmye</tspan></text>
<text x="275.4" y="524.1" font-size="7.7" textLength="32.8" lengthAdjust="spacingAndGlyphs" style="stroke-width:0">Prex1/2<tspan font-size="4.78" dy="-2.65">−/−</tspan></text>
<text x="311.8" y="519.6" font-size="7.7" textLength="30.5" lengthAdjust="spacingAndGlyphs" style="stroke-width:0">Ncdn<tspan font-size="4.78" dy="-2.23" font-style="italic">Δmye</tspan></text>
<text x="310.3" y="528.8" font-size="7.7" textLength="34.3" lengthAdjust="spacingAndGlyphs" style="stroke-width:0">Prex1/2<tspan font-size="4.78" dy="-2.65">−/−</tspan></text>
<text x="369.2" y="397" font-size="8.43" textLength="34.7" lengthAdjust="spacingAndGlyphs">Zymosan</text>
<line x1="381.5" y1="416.86" x2="381.5" y2="508.35" stroke="#000" stroke-width="1.5" />
<line x1="378.5" y1="417.6" x2="381.5" y2="417.6" stroke="#000" stroke-width="1.5" />
<text x="364.8" y="420.01" font-size="7" textLength="10.9" lengthAdjust="spacingAndGlyphs">7.5</text>
<line x1="378.5" y1="447.6" x2="381.5" y2="447.6" stroke="#000" stroke-width="1.5" />
<text x="364.8" y="450.01" font-size="7" textLength="10.9" lengthAdjust="spacingAndGlyphs">5.0</text>
<line x1="378.5" y1="477.6" x2="381.5" y2="477.6" stroke="#000" stroke-width="1.5" />
<text x="364.8" y="480.01" font-size="7" textLength="10.9" lengthAdjust="spacingAndGlyphs">2.5</text>
<line x1="378.5" y1="507.6" x2="381.5" y2="507.6" stroke="#000" stroke-width="1.5" />
<text x="371.34" y="510.01" font-size="7" textLength="4.36" lengthAdjust="spacingAndGlyphs">0</text>
<text x="0" y="0" font-size="9.16" textLength="48" lengthAdjust="spacingAndGlyphs" transform="translate(358.6 486.6) rotate(-90)" style="stroke-width:0.35px">ROS (AUC x 10<tspan font-size="5.4" dy="-3.6">7</tspan><tspan dy="3.6">)</tspan></text>
<line x1="378.2" y1="507.4" x2="507" y2="507.4" stroke="#000" stroke-width="1.5" />
<line x1="396.9" y1="507.4" x2="396.9" y2="510.4" stroke="#000" stroke-width="1.5" />
<line x1="428.5" y1="507.4" x2="428.5" y2="510.4" stroke="#000" stroke-width="1.5" />
<line x1="459.8" y1="507.4" x2="459.8" y2="510.4" stroke="#000" stroke-width="1.5" />
<line x1="490.7" y1="507.4" x2="490.7" y2="510.4" stroke="#000" stroke-width="1.5" />
<line x1="397.3" y1="428.4" x2="425.5" y2="428.4" stroke="#000" stroke-width="1.2" />
<line x1="397.3" y1="425.8" x2="397.3" y2="431" stroke="#000" stroke-width="1.2" />
<line x1="425.5" y1="425.8" x2="425.5" y2="431" stroke="#000" stroke-width="1.2" />
<text x="399.55" y="424.7" font-size="6.98" textLength="23.7" lengthAdjust="spacingAndGlyphs">0.0264</text>
<line x1="429.5" y1="428.2" x2="457.4" y2="428.2" stroke="#000" stroke-width="1.2" />
<line x1="429.5" y1="425.6" x2="429.5" y2="430.8" stroke="#000" stroke-width="1.2" />
<line x1="457.4" y1="425.6" x2="457.4" y2="430.8" stroke="#000" stroke-width="1.2" />
<text x="431.9" y="424.9" font-size="6.98" textLength="23.1" lengthAdjust="spacingAndGlyphs">0.0021</text>
<line x1="429.5" y1="416.2" x2="485.4" y2="416.2" stroke="#000" stroke-width="1.2" />
<line x1="429.5" y1="413.6" x2="429.5" y2="418.8" stroke="#000" stroke-width="1.2" />
<line x1="485.4" y1="413.6" x2="485.4" y2="418.8" stroke="#000" stroke-width="1.2" />
<text x="445.4" y="413.5" font-size="6.98" textLength="24.1" lengthAdjust="spacingAndGlyphs">0.0136</text>
<circle cx="396.8" cy="455.9" r="2.5" fill="#000"/>
<circle cx="400.9" cy="463" r="2.5" fill="#000"/>
<circle cx="393.1" cy="465.7" r="2.5" fill="#000"/>
<circle cx="396.8" cy="472.4" r="2.5" fill="#000"/>
<line x1="386.25" y1="463.9" x2="407.35" y2="463.9" stroke="#000" stroke-width="1.3" />
<line x1="391.75" y1="460.6" x2="401.85" y2="460.6" stroke="#000" stroke-width="1.3" />
<line x1="391.75" y1="467.7" x2="401.85" y2="467.7" stroke="#000" stroke-width="1.3" />
<line x1="396.8" y1="460.6" x2="396.8" y2="467.7" stroke="#000" stroke-width="1.3" />
<circle cx="428.5" cy="446.7" r="2.5" fill="#ff0000"/>
<circle cx="428.5" cy="455.2" r="2.5" fill="#ff0000"/>
<circle cx="424.7" cy="460.6" r="2.5" fill="#ff0000"/>
<circle cx="432.2" cy="460.6" r="2.5" fill="#ff0000"/>
<line x1="418.1" y1="455.6" x2="438.9" y2="455.6" stroke="#000" stroke-width="1.3" />
<line x1="423.35" y1="452.2" x2="433.65" y2="452.2" stroke="#000" stroke-width="1.3" />
<line x1="423.35" y1="458.6" x2="433.65" y2="458.6" stroke="#000" stroke-width="1.3" />
<line x1="428.5" y1="452.2" x2="428.5" y2="458.6" stroke="#000" stroke-width="1.3" />
<circle cx="451" cy="467.5" r="2.5" fill="#0000ff"/>
<circle cx="459.8" cy="464.8" r="2.5" fill="#0000ff"/>
<circle cx="459.8" cy="473.1" r="2.5" fill="#0000ff"/>
<circle cx="468.5" cy="471.1" r="2.5" fill="#0000ff"/>
<circle cx="482.6" cy="468.1" r="2.5" fill="#00be00"/>
<circle cx="491.1" cy="468.4" r="2.5" fill="#00be00"/>
<circle cx="499.7" cy="468.1" r="2.5" fill="#00be00"/>
<line x1="449.45" y1="469.5" x2="470.15" y2="469.5" stroke="#000" stroke-width="1.3" />
<line x1="454.9" y1="467.9" x2="464.7" y2="467.9" stroke="#000" stroke-width="1.3" />
<line x1="454.9" y1="470.9" x2="464.7" y2="470.9" stroke="#000" stroke-width="1.3" />
<line x1="459.8" y1="467.9" x2="459.8" y2="470.9" stroke="#000" stroke-width="1.3" />
<line x1="480.7" y1="468.3" x2="501.5" y2="468.3" stroke="#000" stroke-width="1.3" />
<line x1="486.1" y1="467.6" x2="496.1" y2="467.6" stroke="#000" stroke-width="1.3" />
<line x1="486.1" y1="469" x2="496.1" y2="469" stroke="#000" stroke-width="1.3" />
<line x1="491.1" y1="467.6" x2="491.1" y2="469" stroke="#000" stroke-width="1.3" />
<text x="382.8" y="523.9" font-size="7.7" textLength="24.9" lengthAdjust="spacingAndGlyphs" style="stroke-width:0">Ncdn<tspan font-size="4.78" dy="-3.29">fl/fl</tspan></text>
<text x="410.8" y="523.9" font-size="7.7" textLength="31.2" lengthAdjust="spacingAndGlyphs" style="stroke-width:0">Ncdn<tspan font-size="4.78" dy="-2.23" font-style="italic">Δmye</tspan></text>
<text x="445.2" y="523.9" font-size="7.7" textLength="31.9" lengthAdjust="spacingAndGlyphs" style="stroke-width:0">Prex1/2<tspan font-size="4.78" dy="-2.65">−/−</tspan></text>
<text x="481.4" y="519.2" font-size="7.7" textLength="31.3" lengthAdjust="spacingAndGlyphs" style="stroke-width:0">Ncdn<tspan font-size="4.78" dy="-2.23" font-style="italic">Δmye</tspan></text>
<text x="479.8" y="528.2" font-size="7.7" textLength="34.1" lengthAdjust="spacingAndGlyphs" style="stroke-width:0">Prex1/2<tspan font-size="4.78" dy="-2.65">−/−</tspan></text>
</svg>
</body></html>
